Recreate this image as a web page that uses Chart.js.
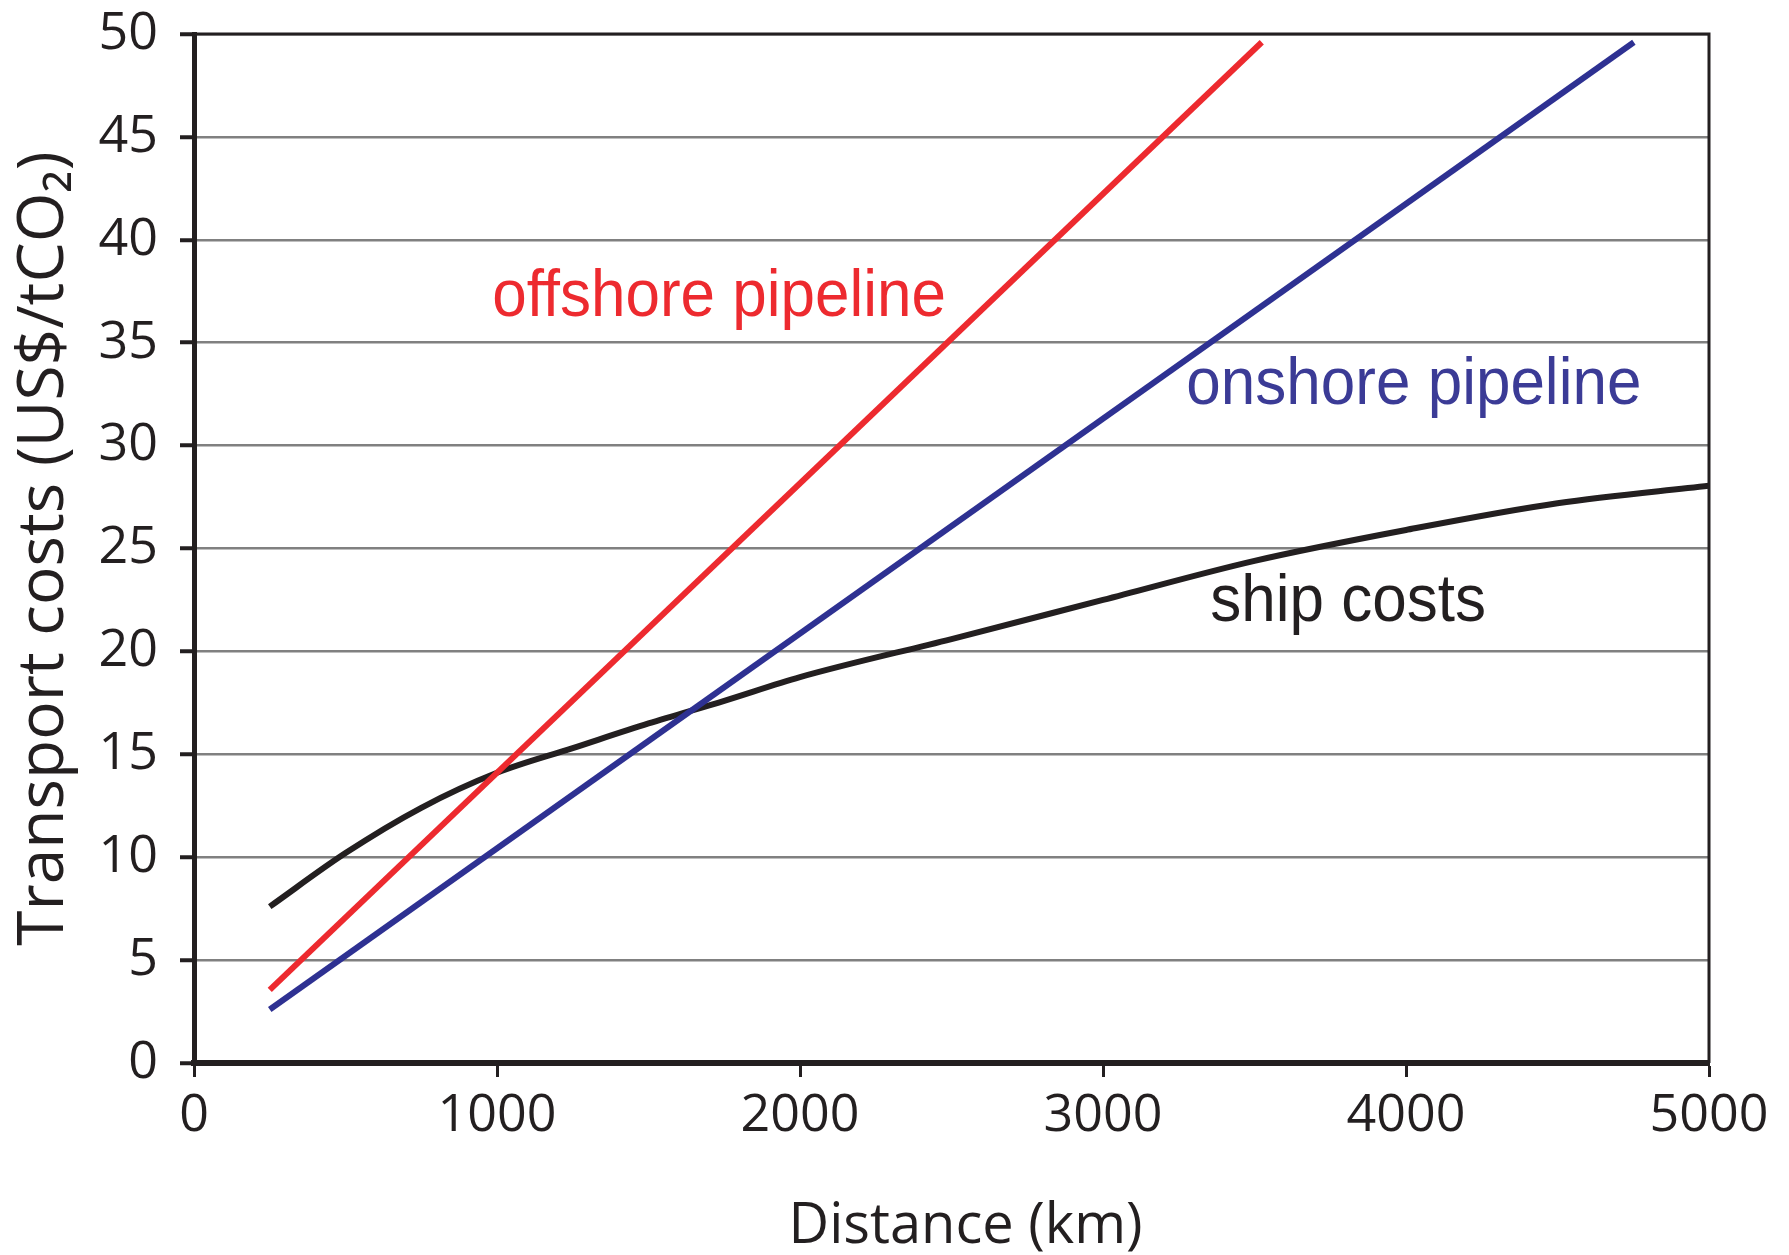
<!DOCTYPE html>
<html>
<head>
<meta charset="utf-8">
<script src="https://cdn.jsdelivr.net/npm/chart.js@4.4.1/dist/chart.umd.min.js"></script>
<style>
html,body{margin:0;padding:0;background:#fff;}
canvas{display:block;}
</style>
</head>
<body>
<canvas id="c" width="1789" height="1255" style="width:1789px;height:1255px"></canvas>
<script>
// ---- data ----
const offshoreKm = [250, 3524];
const offshoreCost = [3.55, 49.6];
const onshoreKm = [250, 4752];
const onshoreCost = [2.6, 49.6];
const shipKm = [250, 500, 750, 1000, 1250, 1500, 1750, 2000, 2500, 3000, 3500, 4000, 4500, 5000];
const shipCost = [7.6, 10.2, 12.4, 14.1, 15.3, 16.5, 17.6, 18.75, 20.6, 22.5, 24.4, 25.9, 27.2, 28.05];
const xTicks = [0, 1000, 2000, 3000, 4000, 5000];
const yTicks = [0, 5, 10, 15, 20, 25, 30, 35, 40, 45, 50];
const seriesNames = ['offshore pipeline', 'onshore pipeline', 'ship costs'];
const xTitle = '\u2002Distance (km)';
const yTitle = 'Transport costs (US$/tCO\u2082)';

const RED = '#ED2A2F', BLUE = '#2E3192', BLACK = '#231F20';
const toPts = (xs, ys) => xs.map((x, i) => ({x: x, y: ys[i]}));

// text labels placed in data coordinates
const seriesLabels = [
  {text: seriesNames[0], x: 1733, y: 37.2, color: RED},
  {text: seriesNames[1], x: 4026, y: 32.9, color: '#3B3B96'},
  {text: seriesNames[2], x: 3809, y: 22.35, color: BLACK}
];

const labelPlugin = {
  id: 'labels',
  afterDatasetsDraw(chart) {
    const ctx = chart.ctx, xs = chart.scales.x, ys = chart.scales.y;
    seriesLabels.forEach(l => {
      ctx.save();
      ctx.textAlign = 'center';
      ctx.textBaseline = 'middle';
      ctx.font = '62px "Liberation Sans", Arial, sans-serif';
      ctx.fillStyle = l.color;
      ctx.translate(xs.getPixelForValue(l.x), ys.getPixelForValue(l.y));
      ctx.scale(1, 1.08);
      ctx.fillText(l.text, 0, 0);
      ctx.restore();
    });
  }
};

const framePlugin = {
  id: 'frame',
  afterDraw(chart) {
    const {ctx, chartArea: a} = chart;
    ctx.save();
    ctx.strokeStyle = BLACK;
    ctx.lineWidth = 3;
    ctx.beginPath();
    ctx.moveTo(a.left, a.top);
    ctx.lineTo(a.right, a.top);
    ctx.lineTo(a.right, a.bottom);
    ctx.stroke();
    ctx.restore();
  }
};

const tickFont = {family: '"Open Sans", sans-serif', size: 52};

new Chart(document.getElementById('c'), {
  type: 'scatter',
  data: {
    datasets: [
      {label: seriesNames[0], data: toPts(offshoreKm, offshoreCost), showLine: true, borderColor: RED, borderWidth: 6, pointRadius: 0, fill: false},
      {label: seriesNames[1], data: toPts(onshoreKm, onshoreCost), showLine: true, borderColor: BLUE, borderWidth: 6, pointRadius: 0, fill: false},
      {label: seriesNames[2], data: toPts(shipKm, shipCost), showLine: true, borderColor: BLACK, borderWidth: 6, pointRadius: 0, fill: false, cubicInterpolationMode: 'monotone'}
    ]
  },
  options: {
    responsive: false,
    animation: false,
    devicePixelRatio: 1,
    layout: {padding: {left: 0, right: 80, top: 34, bottom: 0}},
    plugins: {legend: {display: false}, tooltip: {enabled: false}},
    scales: {
      x: {
        type: 'linear', min: xTicks[0], max: xTicks[xTicks.length - 1],
        afterBuildTicks(s) { s.ticks = xTicks.map(v => ({value: v})); },
        ticks: {font: tickFont, color: BLACK, padding: 8, maxRotation: 0, autoSkip: false, callback: v => String(v)},
        grid: {drawOnChartArea: false, drawTicks: true, tickLength: 14, tickColor: BLACK, tickWidth: 3},
        border: {color: BLACK, width: 6},
        title: {display: true, text: xTitle, color: BLACK, font: {family: '"Open Sans", sans-serif', size: 56, lineHeight: 1}, padding: {top: 0, bottom: 0}},
        afterFit(s) { s.height = 192; s.paddingLeft = 0; s.paddingRight = 0; }
      },
      y: {
        type: 'linear', min: yTicks[0], max: yTicks[yTicks.length - 1],
        afterBuildTicks(s) { s.ticks = yTicks.map(v => ({value: v})); },
        ticks: {font: tickFont, color: BLACK, padding: 22, autoSkip: false, callback: v => String(v)},
        grid: {color: '#808080', lineWidth: 2.5, tickLength: 14, tickColor: BLACK, tickWidth: 4},
        border: {color: BLACK, width: 5},
        title: {display: true, text: yTitle, color: BLACK, font: {family: '"Open Sans", sans-serif', size: 64, lineHeight: 1}, padding: {top: 13, bottom: 0}},
        afterFit(s) { s.width = 194; s.paddingTop = 0; s.paddingBottom = 0; }
      }
    }
  },
  plugins: [labelPlugin, framePlugin]
});
</script>
</body>
</html>
